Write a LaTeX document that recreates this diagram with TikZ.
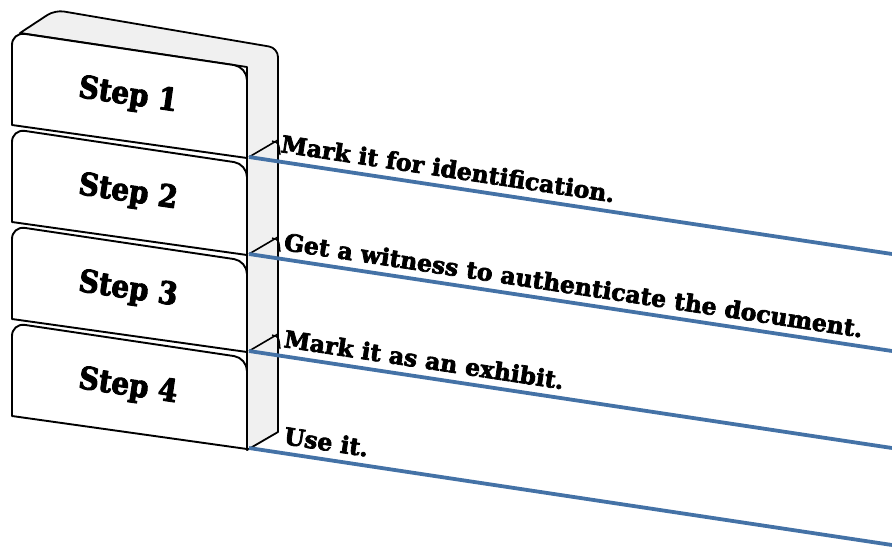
\documentclass[tikz,border=0pt]{standalone}
\usepackage{fontspec}
\setmainfont{DejaVu Serif}[BoldFeatures={FakeBold=3}]
\newfontfamily\stepfont{DejaVu Serif}[FakeStretch=0.9, BoldFeatures={FakeBold=3}]
\usepackage{xcolor}
\definecolor{lineblue}{RGB}{68,114,166}
\definecolor{sidegray}{RGB}{240,240,240}

\begin{document}
\begin{tikzpicture}[x=1pt, y=-1pt, line join=round,
		front/.style={draw=black, line width=1.9pt, fill=white},
		steplabel/.style={font=\fontsize{31}{31}\stepfont\bfseries, rotate=-8.3},
		caption/.style={font=\fontsize{23.5}{24}\selectfont\bfseries, rotate=-8.6, anchor=base west, inner sep=0pt},
		link/.style={draw=lineblue, line width=3.8pt}]
	\useasboundingbox (0,0) rectangle (892,547);
	% top and right side of the stack
	\filldraw[fill=sidegray, line width=1.8pt] (247,67) -- (20,33) [rounded corners=9pt] -- (55,10) -- (278,48) [sharp corners] -- (278,432) -- (247,450) -- cycle;
	\foreach \i [evaluate=\i as \oy using 97*(\i-1)] in {1,...,4} {
		\draw[front] (12,125+\oy) [rounded corners=13pt] -- (12,32+\oy) -- (247,67+\oy) [sharp corners] -- (247,158+\oy) -- cycle;
		\node[steplabel] (s\i) at (128,96+\oy) {Step \i};
		\coordinate (c\i) at (249,157+\oy);
		\coordinate (e\i) at (892,254+\oy);
	}
	\foreach \i [evaluate=\i as \oy using 97*(\i-1)] in {1,2,3} {
		\draw[line width=1.6pt] (c\i) -- (278,140+\oy);
		\draw[line width=1.3pt] (272,141+\oy) .. controls (279,143+\oy) .. (280,155+\oy);
	}
	\foreach \i in {1,...,4}
		\draw[link] (c\i) -- (e\i);
	\node[caption] (t1) at (280,152) {Mark it for identification.};
	\node[caption] (t2) at (283,250) {Get a witness to authenticate the document.};
	\node[caption] (t3) at (283,347) {Mark it as an exhibit.};
	\node[caption] (t4) at (283,444) {Use it.};
\end{tikzpicture}
\end{document}
